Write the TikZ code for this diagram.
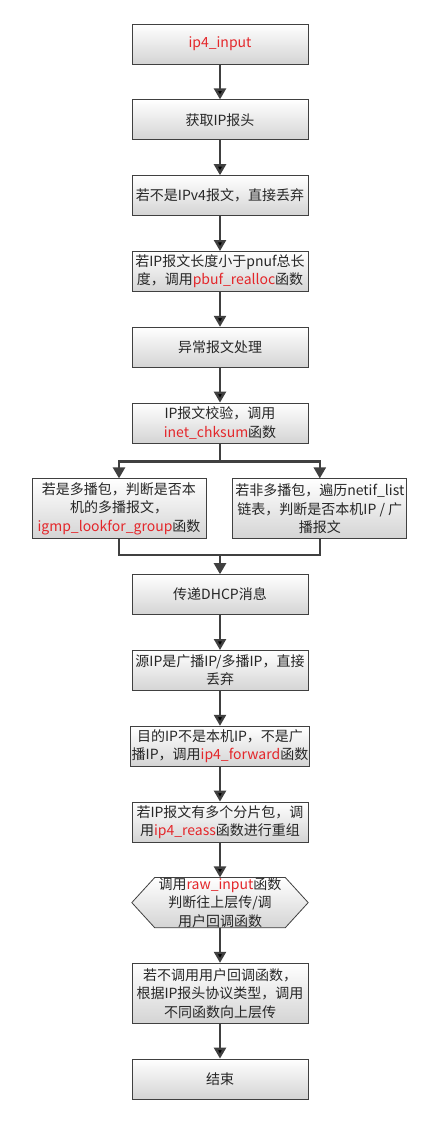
\documentclass[tikz,border=0pt]{standalone}
\usepackage{fontspec}
\setmainfont{Noto Sans CJK SC}
\usetikzlibrary{arrows.meta,positioning,backgrounds}
\definecolor{fnred}{RGB}{228,38,42}
\definecolor{linegray}{RGB}{64,64,64}
\definecolor{boxshade}{RGB}{212,212,212}
\newcommand{\fn}[1]{\textcolor{fnred}{#1}}

\begin{document}
\begin{tikzpicture}[x=1pt,y=-1pt,>={Triangle[width=12pt,length=11pt]},node distance=35pt]
  \tikzstyle{box}=[rectangle,draw=linegray,line width=0.8pt,top color=white,bottom color=boxshade,
                   minimum width=176pt,minimum height=40pt,inner sep=1pt,align=center,
                   text=black!85,font=\fontsize{14}{18.5}\selectfont]
  \tikzstyle{side}=[box,minimum width=174pt,minimum height=60pt]
  \tikzstyle{hexnode}=[rectangle,minimum width=176pt,minimum height=50pt,inner sep=0pt,align=center,
                       text=black!85,font=\fontsize{14}{18.5}\selectfont]
  \tikzstyle{flow}=[->,draw=linegray,line width=2.4pt]
  \tikzstyle{bus}=[draw=linegray,line width=2pt]

  \useasboundingbox (0,0) rectangle (439,1122);

  \node[box]            (inp)   at (220,44)        {\fn{ip4\_input}};
  \node[box]            (hdr)   [below=of inp]     {获取IP报头};
  \node[box]            (ver)   [below=of hdr]     {若不是IPv4报文，直接丢弃};
  \node[box]            (len)   [below=of ver]     {若IP报文长度小于pnuf总长\\度，调用\fn{pbuf\_realloc}函数};
  \node[box]            (err)   [below=of len]     {异常报文处理};
  \node[box]            (chk)   [below=of err]     {IP报文校验，调用\\\fn{inet\_chksum}函数};
  \node[side]           (mcast) [below=of chk,xshift=-101pt]
                                 {若是多播包，判断是否本\\机的多播报文，\\\fn{igmp\_lookfor\_group}函数};
  \node[side]           (ucast) [right=26pt of mcast]
                                 {若非多播包，遍历netif\_list\\链表，判断是否本机IP / 广\\播报文};
  \coordinate           (split) at ([yshift=-18pt]chk.south);
  \coordinate           (merge) at ([yshift=-16pt]mcast.south -| chk.south);
  \node[box]            (dhcp)  [below=19pt of merge] {传递DHCP消息};
  \node[box]            (src)   [below=of dhcp]    {源IP是广播IP/多播IP，直接\\丢弃};
  \node[box]            (dst)   [below=of src]     {目的IP不是本机IP，不是广\\播IP，调用\fn{ip4\_forward}函数};
  \node[box]            (reass) [below=of dst]     {若IP报文有多个分片包，调\\用\fn{ip4\_reass}函数进行重组};
  \node[hexnode]        (raw)   [below=of reass]   {调用\fn{raw\_input}函数\\判断往上层传/调\\用户回调函数};
  \node[box,minimum height=60pt] (up) [below=of raw]
                                 {若不调用用户回调函数，\\根据IP报头协议类型，调用\\不同函数向上层传};
  \node[box]            (fin)   [below=of up]      {结束};

  % hexagon behind the raw_input text
  \begin{pgfonlayer}{background}
    \path[draw=linegray,line width=0.8pt,top color=white,bottom color=boxshade]
      (raw.west) -- ([xshift=23pt]raw.north west) -- ([xshift=-23pt]raw.north east)
      -- (raw.east) -- ([xshift=-23pt]raw.south east) -- ([xshift=23pt]raw.south west) -- cycle;
  \end{pgfonlayer}

  \path[flow] (inp) edge (hdr)
              (hdr) edge (ver)
              (ver) edge (len)
              (len) edge (err)
              (err) edge (chk);
  \draw[bus] (chk.south) -- (split);
  \draw[flow] (split) -| (mcast);
  \draw[flow] (split) -| (ucast);
  \draw[bus] (mcast) |- (merge) -| (ucast);
  \draw[flow] (merge) -- (dhcp);
  \path[flow] (dhcp)  edge (src)
              (src)   edge (dst)
              (dst)   edge (reass)
              (reass) edge (raw)
              (raw)   edge (up)
              (up)    edge (fin);
\end{tikzpicture}
\end{document}
